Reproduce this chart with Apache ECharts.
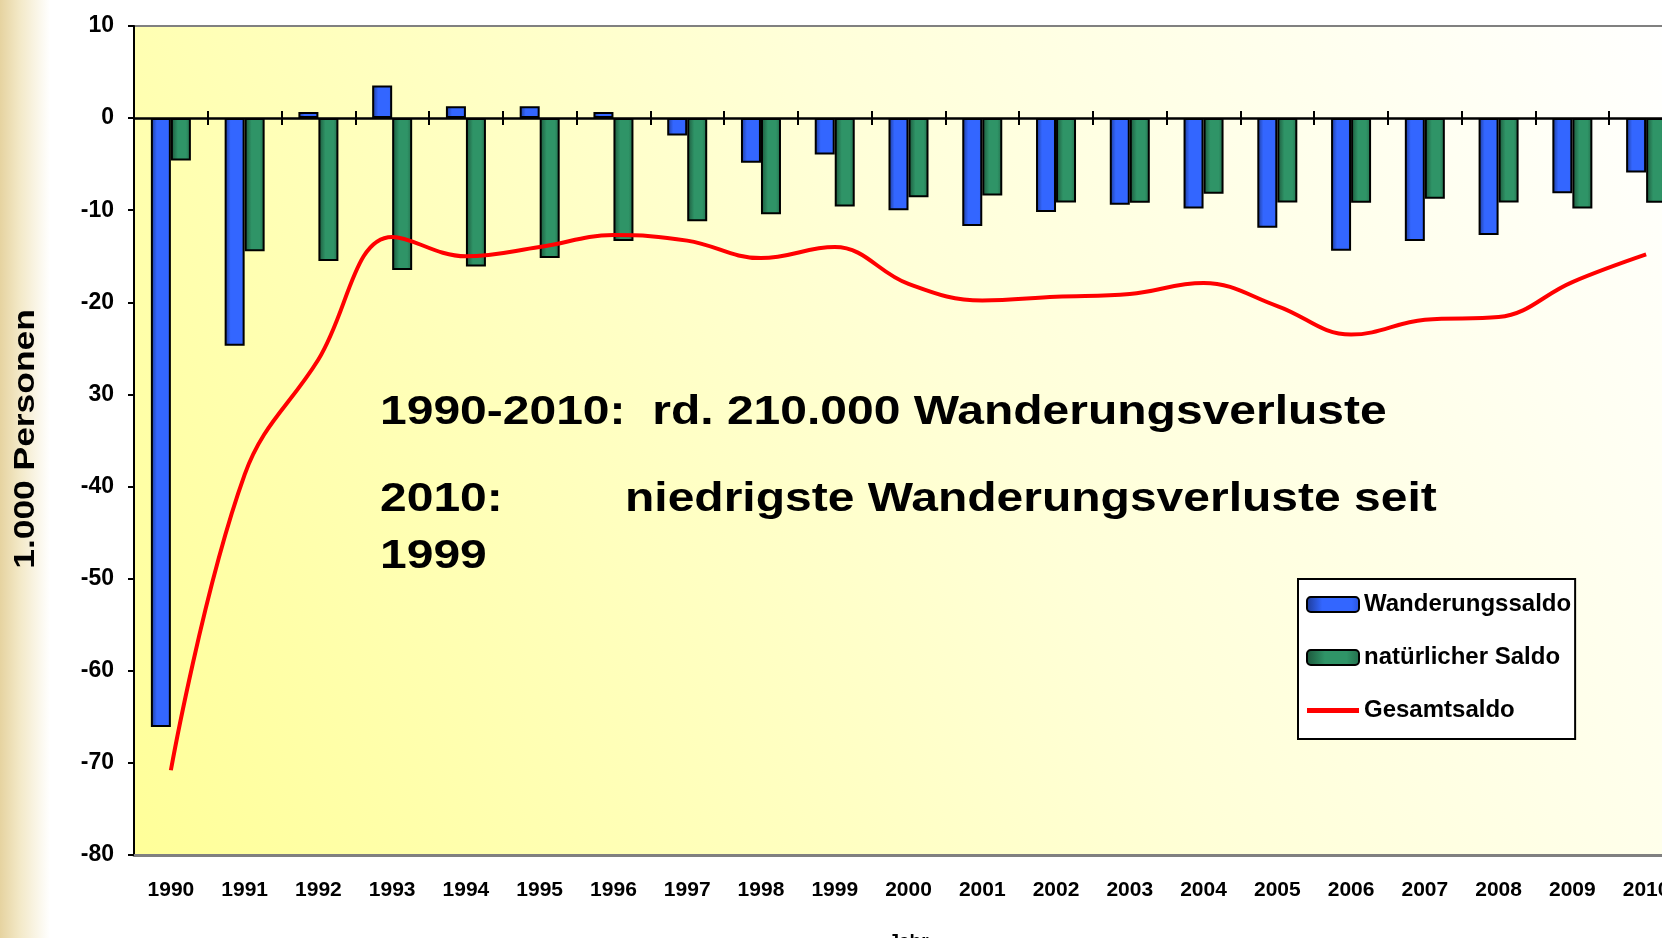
<!DOCTYPE html>
<html>
<head>
<meta charset="utf-8">
<script src="https://cdn.jsdelivr.net/npm/echarts@6/dist/echarts.min.js"></script>
<style>
  html, body { margin: 0; padding: 0; background: #fff; }
  #chart { width: 1662px; height: 938px; }
</style>
</head>
<body>
<div id="chart"></div>
<script>
// ---- data ----
const years = ['1990','1991','1992','1993','1994','1995','1996','1997','1998','1999','2000',
               '2001','2002','2003','2004','2005','2006','2007','2008','2009','2010'];
const wanderungssaldo = [-66.1, -24.7, 0.65, 3.55, 1.3, 1.3, 0.65, -1.9, -4.85, -3.95, -10.0,
                         -11.7, -10.2, -9.4, -9.8, -11.9, -14.4, -13.35, -12.7, -8.15, -5.9];
const natuerlicherSaldo = [-4.6, -14.45, -15.5, -16.5, -16.1, -15.2, -13.35, -11.2, -10.45, -9.6, -8.6,
                           -8.4, -9.15, -9.2, -8.2, -9.15, -9.2, -8.75, -9.15, -9.8, -9.2];
const gesamtsaldo = [-70.8, -38.7, -26.2, -12.9, -15.0, -14.0, -12.7, -13.3, -15.2, -14.0, -18.0,
                     -19.8, -19.4, -19.1, -17.9, -20.4, -23.5, -21.9, -21.6, -17.8, -14.8];
const yTickValues = [-80, -70, -60, -50, -40, -30, -20, -10, 0, 10];
const yTickLabels = ['-80', '-70', '-60', '-50', '-40', '30', '-20', '-10', '0', '10'];
const seriesNames = ['Wanderungssaldo', 'natürlicher Saldo', 'Gesamtsaldo'];
const annotation1 = '1990-2010:  rd. 210.000 Wanderungsverluste';
const annotation2a = '2010:';
const annotation2b = 'niedrigste Wanderungsverluste seit';
const annotation3 = '1999';
const yAxisName = '1.000 Personen';
const xAxisName = 'Jahr';

// ---- chart ----
const FONT = '"Liberation Sans", Arial, sans-serif';
const chart = echarts.init(document.getElementById('chart'), null, { renderer: 'canvas' });

const blueGrad = new echarts.graphic.LinearGradient(0, 0, 1, 0, [
  { offset: 0, color: '#1d3a94' },
  { offset: 0.3, color: '#3366ff' },
  { offset: 0.85, color: '#3366ff' },
  { offset: 1, color: '#2a52d8' }
]);
const greenGrad = new echarts.graphic.LinearGradient(0, 0, 1, 0, [
  { offset: 0, color: '#1c553a' },
  { offset: 0.35, color: '#2f9467' },
  { offset: 0.75, color: '#2f9467' },
  { offset: 1, color: '#246f4d' }
]);

function textEl(x, y, txt) {
  return {
    type: 'text', x: x, y: y, scaleX: 1.2, z: 100,
    style: {
      text: txt, fill: '#000',
      font: 'bold 40px ' + FONT,
      textAlign: 'left', textVerticalAlign: 'middle',
      align: 'left', verticalAlign: 'middle'
    }
  };
}

const catAxisBase = {
  type: 'category',
  data: years,
  boundaryGap: true,
  gridIndex: 0
};

const option = {
  backgroundColor: '#ffffff',
  animation: false,
  grid: {
    left: 134, top: 26, width: 1549, bottom: 83,
    outerBoundsMode: 'none',
    containLabel: false,
    show: true,
    borderColor: '#808080', borderWidth: 2,
    backgroundColor: new echarts.graphic.LinearGradient(0, 1, 1, 0, [
      { offset: 0, color: '#ffff99' },
      { offset: 0.55, color: '#ffffd8' },
      { offset: 1, color: '#ffffff' }
    ])
  },
  legend: {
    orient: 'vertical',
    left: 1298, top: 579,
    data: [
      { name: seriesNames[0] },
      { name: seriesNames[1] },
      { name: seriesNames[2], icon: 'path://M0,0 L52,0 L52,5 L0,5 Z', itemStyle: { color: '#ff0000', borderWidth: 0 } }
    ],
    backgroundColor: '#ffffff',
    borderColor: '#000000', borderWidth: 2,
    padding: [13, 4, 16, 8],
    itemWidth: 52, itemHeight: 15, itemGap: 28,
    textStyle: { fontFamily: FONT, fontWeight: 'bold', fontSize: 24, color: '#000', lineHeight: 25 }
  },
  xAxis: [
    Object.assign({}, catAxisBase, {
      position: 'bottom',
      axisLine: { show: true, onZero: false, lineStyle: { color: '#808080', width: 3 } },
      axisTick: { show: false },
      axisLabel: { interval: 0, margin: 25, color: '#000', fontFamily: FONT, fontWeight: 'bold', fontSize: 21 },
      name: xAxisName, nameLocation: 'middle', nameGap: 77,
      nameTextStyle: { color: '#000', fontFamily: FONT, fontWeight: 'bold', fontSize: 19 },
      splitLine: { show: false }
    }),
    Object.assign({}, catAxisBase, {
      position: 'bottom',
      axisLine: { show: true, onZero: true, onZeroAxisIndex: 0, lineStyle: { color: '#000', width: 2.5 } },
      axisTick: { show: true, inside: true, length: 7, lineStyle: { color: '#000', width: 2 } },
      axisLabel: { show: false },
      splitLine: { show: false }
    }),
    Object.assign({}, catAxisBase, {
      position: 'bottom',
      axisLine: { show: false, onZero: true, onZeroAxisIndex: 0 },
      axisTick: { show: true, inside: false, length: 7, lineStyle: { color: '#000', width: 2 } },
      axisLabel: { show: false },
      splitLine: { show: false }
    })
  ],
  yAxis: {
    type: 'value',
    min: -80, max: 10, interval: 10,
    axisLine: { show: true, lineStyle: { color: '#000', width: 2 } },
    axisTick: { show: true, length: 6, lineStyle: { color: '#000', width: 2 } },
    axisLabel: {
      margin: 20, color: '#000', fontFamily: FONT, fontWeight: 'bold', fontSize: 23,
      formatter: function (v) {
        const i = yTickValues.indexOf(v);
        return i >= 0 ? yTickLabels[i] : '';
      }
    },
    splitLine: { show: false }
  },
  series: [
    {
      name: seriesNames[0], type: 'bar', data: wanderungssaldo,
      barWidth: 20, barGap: '0%',
      itemStyle: { color: blueGrad, borderColor: '#000', borderWidth: 2 }
    },
    {
      name: seriesNames[1], type: 'bar', data: natuerlicherSaldo,
      barWidth: 20, barGap: '0%',
      itemStyle: { color: greenGrad, borderColor: '#000', borderWidth: 2 }
    },
    {
      name: seriesNames[2], type: 'line', data: gesamtsaldo,
      smooth: 0.4, symbol: 'none', showSymbol: false, z: 5,
      lineStyle: { color: '#ff0000', width: 4 },
      itemStyle: { color: '#ff0000' }
    }
  ],
  graphic: [
    {
      type: 'rect', z: -10, silent: true,
      shape: { x: 0, y: 0, width: 50, height: 938 },
      style: {
        fill: new echarts.graphic.LinearGradient(0, 0, 1, 0, [
          { offset: 0, color: '#e6d3a0' },
          { offset: 0.4, color: '#f3e9c8' },
          { offset: 1, color: '#ffffff' }
        ])
      }
    },
    {
      type: 'text', x: 26, y: 439, rotation: Math.PI / 2, scaleX: 1.22, z: 100,
      style: {
        text: yAxisName, fill: '#000',
        font: 'bold 29px ' + FONT,
        textAlign: 'center', textVerticalAlign: 'middle',
        align: 'center', verticalAlign: 'middle'
      }
    },
    textEl(380, 413, annotation1),
    textEl(380, 500, annotation2a),
    textEl(625, 500, annotation2b),
    textEl(380, 557, annotation3)
  ]
};

chart.setOption(option);
</script>
</body>
</html>
